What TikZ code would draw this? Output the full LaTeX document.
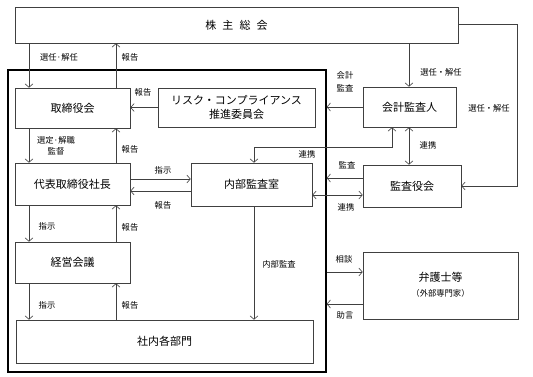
\documentclass[tikz,border=0pt]{standalone}
\usepackage{fontspec}
\setmainfont{Noto Sans CJK JP}
\usetikzlibrary{arrows.meta}
\definecolor{ln}{HTML}{404040}
\tikzset{
  box/.style={draw=ln, line width=0.6pt, inner sep=0pt, font=\fontsize{11}{13.5}\selectfont, align=center},
  arr/.style={draw=ln, line width=0.6pt, -{Straight Barb[length=3.5pt,width=8pt]}},
  darr/.style={draw=ln, line width=0.6pt, {Straight Barb[length=3.5pt,width=8pt]}-{Straight Barb[length=3.5pt,width=8pt]}},
  lbl/.style={font=\fontsize{8.3}{10.5}\selectfont, inner sep=0pt, align=center},
}
\begin{document}
\begin{tikzpicture}[x=1pt,y=-1pt]
\useasboundingbox (0,0) rectangle (533,377);
% frame
\node[draw=black, line width=1.2pt, minimum width=318pt, minimum height=302pt, inner sep=0pt] (frame) at (167,221) {};
% boxes
\node[box, minimum width=443pt, minimum height=36pt] (sh) at (236.5,25) {株\hspace{0.55em}主\hspace{0.55em}総\hspace{0.55em}会};
\node[box, minimum width=115pt, minimum height=40pt] (bd) at (72.5,108) {取締役会};
\node[box, minimum width=157pt, minimum height=39pt] (risk) at (236.5,107.5) {リスク・コンプライアンス\\推進委員会};
\node[box, minimum width=93pt, minimum height=40pt] (aud) at (409.5,107) {会計監査人};
\node[box, minimum width=115pt, minimum height=42pt] (ceo) at (72.5,184) {代表取締役社長};
\node[box, minimum width=121pt, minimum height=43pt] (ia) at (251.5,184.5) {内部監査室};
\node[box, minimum width=98pt, minimum height=42pt] (kan) at (412,186) {監査役会};
\node[box, minimum width=115pt, minimum height=41pt] (mtg) at (72.5,262.5) {経営会議};
\node[box, minimum width=297pt, minimum height=43pt] (dept) at (164.5,341.5) {社内各部門};
\node[box, minimum width=155pt, minimum height=67pt] (law) at (440.5,285.5) {};
\node[font=\fontsize{11}{13.5}\selectfont, inner sep=0pt] (lawt) at (440.5,277) {弁護士等};
\node[font=\fontsize{8.3}{10.5}\selectfont, inner sep=0pt] (laws) at (440.5,293) {（外部専門家）};
% helper coordinates
\coordinate (xL) at (29,0);
\coordinate (xR) at (116,0);
\coordinate (xIA) at (254,0);
\coordinate (xA) at (409,0);
\coordinate (yR) at (0,24);
\coordinate (xRR) at (517,0);
\coordinate (yK) at (0,186);
\coordinate (yLink) at (0,147);
\coordinate (xLink) at (392,0);
% connectors
\draw[arr] (sh.south -| xL) -- (bd.north -| xL);
\draw[arr] (bd.north -| xR) -- (sh.south -| xR);
\draw[arr] (risk.west) -- (bd.east |- risk.west);
\draw[arr] (aud.west) -- (frame.east |- aud.west);
\draw[arr] (sh.south -| xA) -- (aud.north -| xA);
\draw[arr] (sh.east |- yR) -- (xRR |- yR) -- (xRR |- yK) -- (kan.east |- yK);
\draw[arr] (bd.south -| xL) -- (ceo.north -| xL);
\draw[arr] (ceo.north -| xR) -- (bd.south -| xR);
\coordinate (yI) at (0,179);
\coordinate (yO) at (0,191);
\draw[arr] (ceo.east |- yI) -- (ia.west |- yI);
\draw[arr] (ia.west |- yO) -- (ceo.east |- yO);
\draw[darr] (ia.north -| xIA) -- (xIA |- yLink) -- (xLink |- yLink) -- (aud.south -| xLink);
\draw[darr] (aud.south -| xA) -- (kan.north -| xA);
\coordinate (yM) at (0,178);
\coordinate (yC) at (0,195);
\draw[arr] (kan.west |- yM) -- (frame.east |- yM);
\draw[darr] (ia.east |- yC) -- (kan.west |- yC);
\draw[arr] (ceo.south -| xL) -- (mtg.north -| xL);
\draw[arr] (mtg.north -| xR) -- (ceo.south -| xR);
\draw[arr] (mtg.south -| xL) -- (dept.north -| xL);
\draw[arr] (dept.north -| xR) -- (mtg.south -| xR);
\draw[arr] (ia.south -| xIA) -- (dept.north -| xIA);
\coordinate (yS) at (0,272);
\coordinate (yJ) at (0,304);
\draw[arr] (frame.east |- yS) -- (law.west |- yS);
\draw[arr] (law.west |- yJ) -- (frame.east |- yJ);
% labels
\node[lbl] (l1) at (59,57) {選任·解任};
\node[lbl] (l2) at (130,57) {報告};
\node[lbl] (l3) at (143,92) {報告};
\node[lbl] (l4) at (345,82) {会計\\[2pt]監査};
\node[lbl] (l5) at (441,72) {選任・解任};
\node[lbl] (l6) at (489,108) {選任・解任};
\node[lbl] (l7) at (56,146) {選定·解職\\監督};
\node[lbl] (l8) at (130,149) {報告};
\node[lbl] (l9) at (163,170) {指示};
\node[lbl] (l10) at (163,205) {報告};
\node[lbl] (l11) at (307,154) {連携};
\node[lbl] (l12) at (428,145) {連携};
\node[lbl] (l13) at (347,165) {監査};
\node[lbl] (l14) at (346,207) {連携};
\node[lbl] (l15) at (47,226) {指示};
\node[lbl] (l16) at (130,227) {報告};
\node[lbl] (l17) at (279,264) {内部監査};
\node[lbl] (l18) at (47,305) {指示};
\node[lbl] (l19) at (130,305) {報告};
\node[lbl] (l20) at (344,259) {相談};
\node[lbl] (l21) at (345,315) {助言};
\end{tikzpicture}
\end{document}
